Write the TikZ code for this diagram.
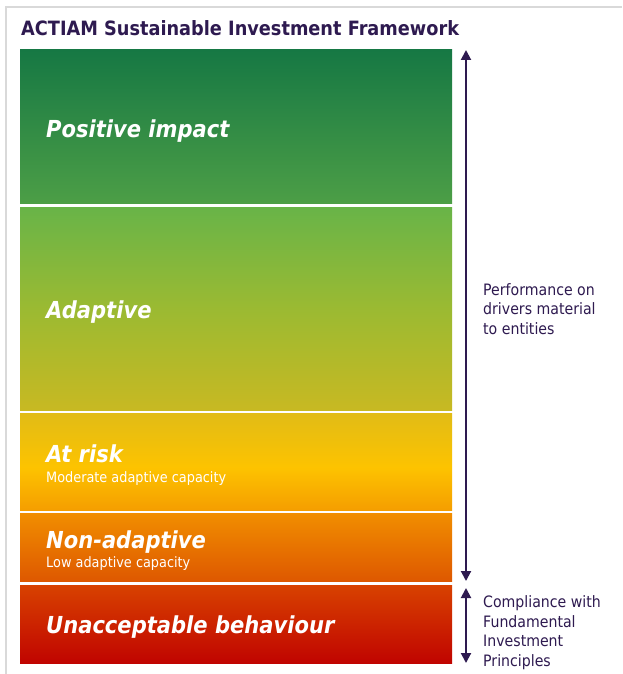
\documentclass[tikz,border=0pt]{standalone}
\usepackage{fontspec}
\setmainfont[FakeStretch=0.9]{DejaVu Sans}
\usetikzlibrary{arrows.meta}
\definecolor{posT}{RGB}{22,120,68}
\definecolor{posB}{RGB}{76,158,70}
\definecolor{adT}{RGB}{104,180,72}
\definecolor{adM}{RGB}{155,186,50}
\definecolor{adB}{RGB}{200,185,34}
\definecolor{riT}{RGB}{225,188,22}
\definecolor{riM}{RGB}{253,195,0}
\definecolor{riB}{RGB}{245,158,0}
\definecolor{noT}{RGB}{241,142,0}
\definecolor{noB}{RGB}{222,88,0}
\definecolor{unT}{RGB}{216,66,0}
\definecolor{unB}{RGB}{192,4,0}
\definecolor{purp}{RGB}{46,26,80}
\definecolor{framegray}{RGB}{217,217,217}
\pgfdeclareverticalshading{shPos}{100bp}{color(0bp)=(posB); color(25bp)=(posB); color(75bp)=(posT); color(100bp)=(posT)}
\pgfdeclareverticalshading{shAd}{100bp}{color(0bp)=(adB); color(25bp)=(adB); color(50bp)=(adM); color(75bp)=(adT); color(100bp)=(adT)}
\pgfdeclareverticalshading{shRi}{100bp}{color(0bp)=(riB); color(25bp)=(riB); color(47bp)=(riM); color(75bp)=(riT); color(100bp)=(riT)}
\pgfdeclareverticalshading{shNo}{100bp}{color(0bp)=(noB); color(25bp)=(noB); color(75bp)=(noT); color(100bp)=(noT)}
\pgfdeclareverticalshading{shUn}{100bp}{color(0bp)=(unB); color(25bp)=(unB); color(75bp)=(unT); color(100bp)=(unT)}
\tikzset{
  bar/.style={anchor=north west, minimum width=432pt, inner sep=0pt, outer sep=0pt, draw=none},
  biglabel/.style={anchor=base west, inner sep=0pt, text=white, font=\fontsize{23.4}{26}\selectfont\bfseries\itshape},
  smalllabel/.style={anchor=base west, inner sep=0pt, text=white, font=\fontsize{14.3}{16}\selectfont},
  sidetext/.style={anchor=base west, inner sep=0pt, text=purp, font=\fontsize{15.7}{19.5}\selectfont, align=left},
  arr/.style={draw=purp, line width=2pt, {Triangle[width=10pt,length=10pt]}-{Triangle[width=10pt,length=10pt]}},
}
\begin{document}
\begin{tikzpicture}[x=1pt,y=-1pt]
\useasboundingbox (0,0) rectangle (622,674);
\fill[white] (0,0) rectangle (622,674);
\draw[framegray, line width=2pt] (6,674) -- (6,7) -- (622,7);
\node[anchor=base west, inner sep=0pt, text=purp, font=\fontsize{19.7}{22}\selectfont\bfseries] (title) at (21,36) {ACTIAM Sustainable Investment Framework};
\node[bar, shading=shPos, minimum height=153pt] (pos) at (20,50) {};
\node[bar, shading=shAd, minimum height=203.5pt] (adap) at (20,207) {};
\node[bar, shading=shRi, minimum height=97pt] (risk) at (20,413) {};
\node[bar, shading=shNo, minimum height=68pt] (non) at (20,513) {};
\node[bar, shading=shUn, minimum height=78pt] (unacc) at (20,585) {};
\node[biglabel] (l1) at (46,137) {Positive impact};
\node[biglabel] (l2) at (46,318) {Adaptive};
\node[biglabel] (l3) at (46,462) {At risk};
\node[smalllabel] (s3) at (46,482) {Moderate adaptive capacity};
\node[biglabel] (l4) at (46,548) {Non-adaptive};
\node[smalllabel] (s4) at (46,567) {Low adaptive capacity};
\node[biglabel] (l5) at (46,633) {Unacceptable behaviour};
\draw[arr] ([xshift=14pt]pos.north east) -- ([xshift=14pt]non.south east);
\draw[arr] ([xshift=14pt,yshift=-3pt]unacc.north east) -- ([xshift=14pt]unacc.south east);
\node[sidetext, anchor=north west] (perf) at (483,283) {Performance on\\drivers material\\to entities};
\node[sidetext, anchor=north west] (comp) at (483,595.5) {Compliance with\\Fundamental\\Investment\\Principles};
\end{tikzpicture}
\end{document}
